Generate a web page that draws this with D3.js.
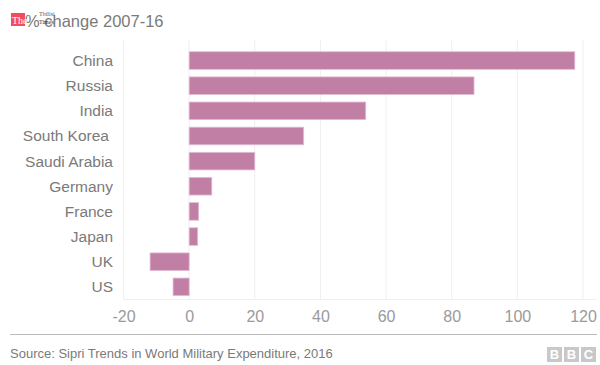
<!DOCTYPE html>
<html><head><meta charset="utf-8">
<script src="https://cdn.jsdelivr.net/npm/d3@7"></script>
<style>body{margin:0;background:#fff;} svg{display:block;font-family:"Liberation Sans",Arial,sans-serif;}</style>
</head><body>
<script>
const categories = ["China","Russia","India","South Korea","Saudi Arabia","Germany","France","Japan","UK","US"];
const values = [117.5, 86.8, 53.8, 34.9, 20, 6.9, 2.9, 2.6, -11.9, -4.9];
const xTicks = [-20, 0, 20, 40, 60, 80, 100, 120];
const title = "% change 2007-16";
const source = "Source: Sipri Trends in World Military Expenditure, 2016";

const W = 600, H = 365;
const svg = d3.select("body").append("svg").attr("width", W).attr("height", H);

const x = d3.scaleLinear().domain([-20, 120]).range([123.5, 583]);
const y = d3.scaleBand().domain(categories).range([44.2, 303.2]).paddingInner(0.3).paddingOuter(0.3);

// gridlines
svg.append("g").selectAll("line").data(xTicks).join("line")
  .attr("x1", d => x(d)).attr("x2", d => x(d))
  .attr("y1", 40).attr("y2", 299)
  .attr("stroke", "#efefef").attr("stroke-width", 1);
// bottom baseline
svg.append("line").attr("x1", x(-20)).attr("x2", 597).attr("y1", 299.5).attr("y2", 299.5)
  .attr("stroke", "#efefef");

// bars
svg.append("g").selectAll("rect").data(values).join("rect")
  .attr("x", d => x(Math.min(0, d)))
  .attr("width", d => Math.abs(x(d) - x(0)))
  .attr("y", (d, i) => y(categories[i]))
  .attr("height", y.bandwidth())
  .attr("fill", "#c17fa5")
  .attr("stroke", "#e3bdd2").attr("stroke-width", 0.8);

// y axis labels
svg.append("g").selectAll("text").data(categories).join("text")
  .attr("x", d => d === "South Korea" ? 109 : 113).attr("y", d => y(d) + y.bandwidth() / 2)
  .attr("dy", "0.35em").attr("text-anchor", "end")
  .attr("font-size", 15.5).attr("fill", "#7a7a7a").text(d => d);

// x axis tick labels
const xAxis = d3.axisBottom(x).tickValues(xTicks).tickSize(0).tickPadding(0).tickFormat(d => String(d));
const gx = svg.append("g").attr("transform", "translate(0,307)").call(xAxis);
gx.select(".domain").remove();
gx.selectAll("text").attr("font-size", 16).attr("fill", "#9a9a9a")
  .attr("font-family", "Liberation Sans, Arial, sans-serif").attr("dy", "0.95em");

// title
svg.append("text").attr("x", 25).attr("y", 27).attr("font-size", 16.5).attr("fill", "#7a7a7a").text(title);

// watermark logo
svg.append("rect").attr("x", 11).attr("y", 13).attr("width", 14).attr("height", 13).attr("fill", "#f0384f").attr("opacity", 0.9);
svg.append("text").attr("x", 12).attr("y", 24).attr("font-size", 10).attr("font-family", "Liberation Serif, serif").attr("fill", "#fff").text("The");
svg.append("text").attr("x", 39).attr("y", 16).attr("font-size", 6).attr("font-family", "Liberation Serif, serif").attr("fill", "#555").text("Tbilisi");
svg.append("text").attr("x", 39).attr("y", 24).attr("font-size", 6).attr("font-family", "Liberation Serif, serif").attr("fill", "#333").text("Times");

// footer
svg.append("line").attr("x1", 10).attr("x2", 597).attr("y1", 334.5).attr("y2", 334.5).attr("stroke", "#bbb");
svg.append("text").attr("x", 10).attr("y", 358).attr("font-size", 13).attr("fill", "#7a7a7a").text(source);

const bbc = ["B","B","C"];
const lg = svg.append("g");
bbc.forEach((c, i) => {
  const bx = 547 + i * 17;
  lg.append("rect").attr("x", bx).attr("y", 347).attr("width", 15).attr("height", 15).attr("fill", "#c8c8c8");
  lg.append("text").attr("x", bx + 7.5).attr("y", 359).attr("text-anchor", "middle").attr("font-size", 13).attr("font-weight", "bold").attr("fill", "#fff").text(c);
});
</script>
</body></html>
